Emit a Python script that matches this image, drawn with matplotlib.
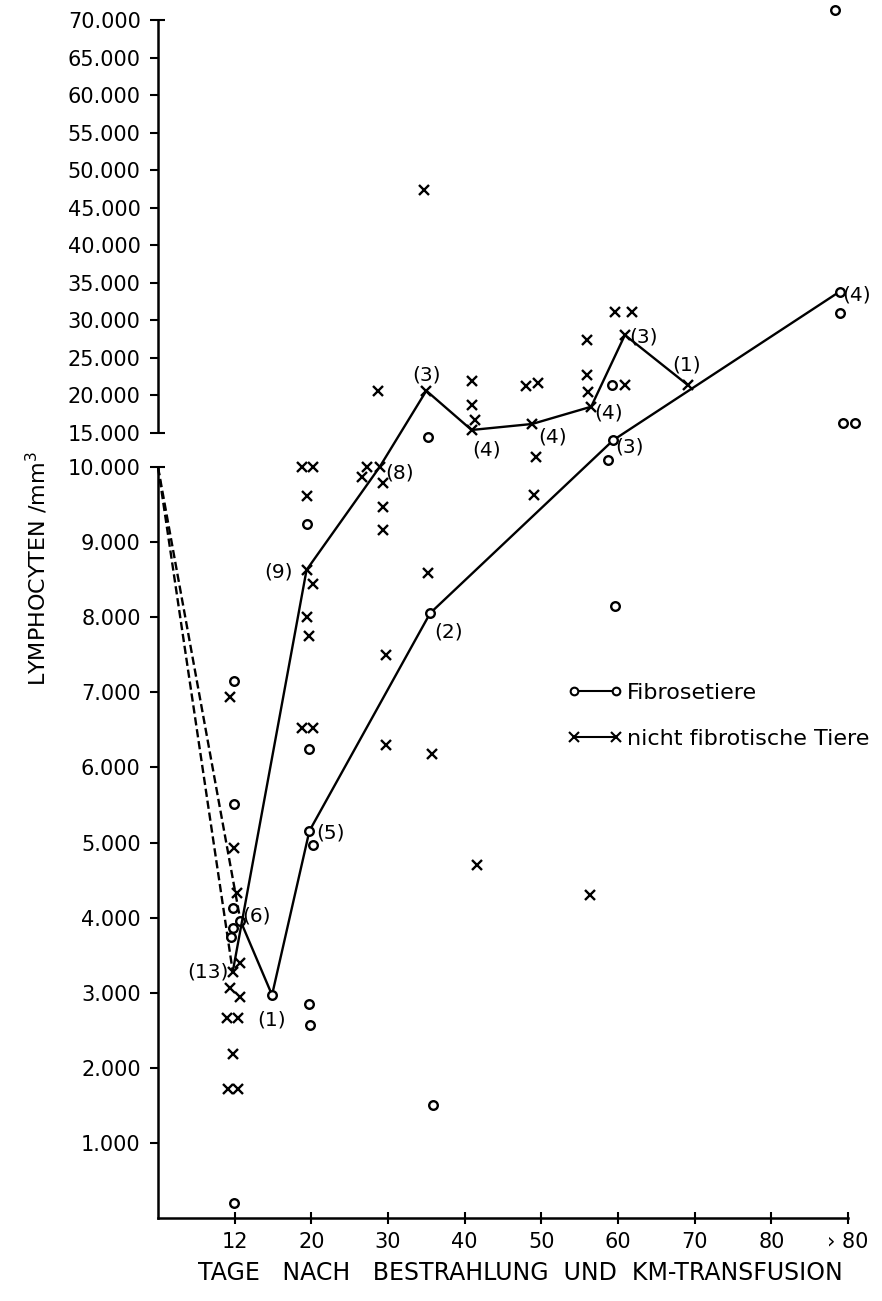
import numpy as np
import matplotlib.pyplot as plt
from matplotlib.lines import Line2D
from matplotlib.ticker import FixedLocator, FuncFormatter

# ---- data (days after irradiation, lymphocytes / mm3) ----
# x axis is not linear: 12, 20, 30 ... 80, >80 are equally spaced (">80" sits at 90)
day_ticks = [12, 20, 30, 40, 50, 60, 70, 80, 90]
day_tick_labels = ['12', '20', '30', '40', '50', '60', '70', '80', '› 80']
y_ticks_low = [1000, 2000, 3000, 4000, 5000, 6000, 7000, 8000, 9000, 10000]
y_ticks_high = [15000, 20000, 25000, 30000, 35000, 40000, 45000, 50000,
                55000, 60000, 65000, 70000]

# Fibrosetiere (o) - single animals
fib_days = [11.9, 11.9, 11.7, 11.7, 11.5, 11.9,
            19.5, 19.8, 20.2, 19.8, 19.9,
            35.2, 35.9,
            59.2, 58.7, 59.6,
            88.3, 88.9, 89.4, 90.9]
fib_vals = [7150, 5510, 4130, 3860, 3740, 200,
            9245, 6245, 4970, 2850, 2570,
            14450, 1505,
            21390, 11030, 8150,
            71300, 30940, 16290, 16290]
# Fibrosetiere - group means (line) and group size
fib_mean_days = [0, 12.6, 15.9, 19.8, 35.5, 59.4, 88.9]
fib_mean_vals = [10000, 3960, 2970, 5155, 8055, 13970, 33820]
fib_n = [None, 6, 1, 5, 2, 3, 4]

# nicht fibrotische Tiere (x) - single animals
nf_days = [11.3, 11.9, 12.2, 12.6, 11.3, 12.6, 10.8, 12.3, 11.7, 11.0, 12.3,
           19.0, 20.2, 19.5, 20.2, 19.5, 19.8, 19.0, 20.2,
           28.7, 27.3, 26.6, 29.4, 29.4, 29.4, 29.7, 29.7,
           34.7, 35.2, 35.8,
           40.9, 40.9, 41.3, 41.6,
           48.0, 49.6, 49.3, 49.0,
           56.0, 56.0, 56.1, 56.3,
           59.6, 61.8, 60.9]
nf_vals = [6935, 4925, 4325, 3396, 3064, 2944, 2660, 2660, 2184, 1714, 1714,
           10050, 10050, 9617, 8450, 8010, 7750, 6530, 6530,
           20630, 10030, 9870, 9790, 9466, 9164, 7500, 6300,
           47370, 8590, 6180,
           21970, 18730, 16730, 4700,
           21200, 21620, 11510, 9630,
           27390, 22730, 20500, 4300,
           31160, 31160, 21390]
nf_mean_days = [0, 11.7, 19.5, 28.9, 35.0, 40.9, 48.8, 56.5, 60.9, 69.1]
nf_mean_vals = [10000, 3280, 8630, 10000, 20630, 15400, 16200, 18500, 28050, 21390]
nf_n = [None, 13, 9, 8, 3, 4, 4, 4, 3, 1]

# label offsets (pixels) for the group sizes
fib_offsets = [None, (16, 5), (0, -25), (21, -2), (18, -19), (16, -7), (17, -3)]
nf_offsets = [None, (-25, 0), (-28, -2), (20, -6), (0, 16), (15, -20),
              (20, -13), (17, -6), (19, -2), (-1, 20)]

# ---- axis scales ----
day_pts = [-12, 0, 12, 20, 30, 40, 50, 60, 70, 80, 90, 190]
pos_pts = [-1, 0, 1, 2, 3, 4, 5, 6, 7, 8, 9, 19]
val_pts = [-10000, 0, 10000, 15000, 170000]
scl_pts = [-10000, 0, 10000, 10454.5, 10454.5 + 15500]


def x_fwd(d):
    return np.interp(d, day_pts, pos_pts)


def x_inv(p):
    return np.interp(p, pos_pts, day_pts)


def y_fwd(v):
    return np.interp(v, val_pts, scl_pts)


def y_inv(s):
    return np.interp(s, scl_pts, val_pts)


plt.rcParams['font.family'] = ['DejaVu Sans']
fig = plt.figure(figsize=(8.82, 13.01), dpi=100)
ax = fig.add_axes([158 / 882, 83 / 1301, 690 / 882, 1198 / 1301])
ax.set_xscale('function', functions=(x_fwd, x_inv))
ax.set_yscale('function', functions=(y_fwd, y_inv))
ax.set_xlim(0, 90)
ax.set_ylim(0, 70000)

lw = 1.7
# mean lines: dashed from the start value, then solid
for mdays, mvals, mk in [(fib_mean_days, fib_mean_vals, 'o'), (nf_mean_days, nf_mean_vals, 'x')]:
    ax.plot(mdays[:2], mvals[:2], color='k', lw=lw, dashes=(3.5, 1.6), clip_on=False)
    ax.plot(mdays[1:], mvals[1:], color='k', lw=lw, clip_on=False)
    if mk == 'o':
        ax.plot(mdays[1:], mvals[1:], ls='none', marker='o', ms=6.2, mfc='white',
                mec='k', mew=1.7, clip_on=False)
    else:
        ax.plot(mdays[1:], mvals[1:], ls='none', marker='x', ms=7, mec='k',
                mew=1.7, clip_on=False)

# single animals
ax.plot(fib_days, fib_vals, ls='none', marker='o', ms=6.2, mfc='white', mec='k',
        mew=1.7, clip_on=False)
ax.plot(nf_days, nf_vals, ls='none', marker='x', ms=7, mec='k', mew=1.7, clip_on=False)

# group sizes
for mdays, mvals, ns, offs in [(fib_mean_days, fib_mean_vals, fib_n, fib_offsets),
                               (nf_mean_days, nf_mean_vals, nf_n, nf_offsets)]:
    for d, v, n, off in zip(mdays, mvals, ns, offs):
        if n is None:
            continue
        ax.annotate(f'({n})', (d, v), xytext=off, textcoords='offset pixels',
                    ha='center', va='center', fontsize=14.5)

# axes decoration
for s in ['top', 'right']:
    ax.spines[s].set_visible(False)
ax.spines['left'].set_bounds(0, 10000)
ax.spines['left'].set_linewidth(1.8)
ax.spines['bottom'].set_linewidth(1.8)
ax.vlines(0, 15000, 70000, color='k', lw=1.8, clip_on=False)

ax.xaxis.set_major_locator(FixedLocator(day_ticks))
ax.set_xticklabels(day_tick_labels)
ax.tick_params(axis='x', direction='inout', length=8, width=1.5, labelsize=15, pad=6)

ax.yaxis.set_major_locator(FixedLocator(y_ticks_low + y_ticks_high))
ax.yaxis.set_major_formatter(FuncFormatter(lambda v, p: f'{int(v):,}'.replace(',', '.')))
ax.yaxis.set_minor_locator(FixedLocator([10000, 15000, 70000]))
ax.yaxis.remove_overlapping_locs = False
ax.tick_params(axis='y', which='major', direction='out', length=5.5, width=1.5,
               labelsize=15, pad=7)
ax.tick_params(axis='y', which='minor', direction='in', length=5, width=1.5)

ax.set_xlabel('TAGE   NACH   BESTRAHLUNG  UND  KM-TRANSFUSION', fontsize=17)
ax.xaxis.set_label_coords(0.525, -0.036)
ax.set_ylabel('LYMPHOCYTEN /mm$^3$', fontsize=16)
ax.yaxis.set_label_coords(-0.157, 0.542)

handles = [Line2D([], [], color='k', lw=1.5, marker='o', ms=5.5, mfc='white', mec='k', mew=1.5),
           Line2D([], [], color='k', lw=1.5, marker='x', ms=6.5, mec='k', mew=1.5)]
fig.legend(handles, ['Fibrosetiere', 'nicht fibrotische Tiere'], numpoints=2,
           loc='upper left', bbox_to_anchor=(567 / 882, 1 - 683 / 1301),
           frameon=False, fontsize=16, handlelength=2.5, handletextpad=0.2,
           labelspacing=1.15, borderpad=0, borderaxespad=0)

fig.savefig('out.png', dpi=100, facecolor='white')
